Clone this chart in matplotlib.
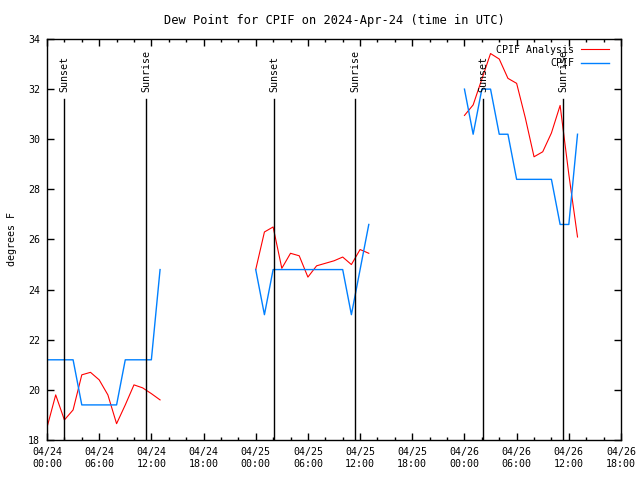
import numpy as np
import matplotlib
matplotlib.use('Agg')
import matplotlib.pyplot as plt
import matplotlib.dates as mdates

rc = plt.rcParams
rc['font.family'] = 'DejaVu Sans Mono'
rc['font.size'] = 7.2

base = np.datetime64('2024-04-24T00:00')

# hours since 04/24 00:00 UTC
hrs1 = np.arange(0, 14)
hrs2 = np.arange(24, 38)
hrs3 = np.arange(48, 62)

ana1 = [18.5, 19.8, 18.8, 19.2, 20.6, 20.7, 20.4, 19.8, 18.65, 19.4, 20.2, 20.08, 19.85, 19.6]
ana2 = [24.8, 26.3, 26.5, 24.85, 25.45, 25.35, 24.5, 24.95, 25.05, 25.15, 25.3, 25.0, 25.6, 25.45]
ana3 = [30.95, 31.37, 32.4, 33.42, 33.2, 32.43, 32.23, 30.85, 29.3, 29.5, 30.25, 31.35, 28.6, 26.1]

fc1 = [21.2, 21.2, 21.2, 21.2, 19.4, 19.4, 19.4, 19.4, 19.4, 21.2, 21.2, 21.2, 21.2, 24.8]
fc2 = [24.8, 23.0, 24.8, 24.8, 24.8, 24.8, 24.8, 24.8, 24.8, 24.8, 24.8, 23.0, 24.8, 26.6]
fc3 = [32.0, 30.2, 32.0, 32.0, 30.2, 30.2, 28.4, 28.4, 28.4, 28.4, 28.4, 26.6, 26.6, 30.2]

sun_times = ['2024-04-24T01:59', '2024-04-24T11:25', '2024-04-25T02:08',
             '2024-04-25T11:26', '2024-04-26T02:10', '2024-04-26T11:22']
sun_names = ['Sunset', 'Sunrise', 'Sunset', 'Sunrise', 'Sunset', 'Sunrise']


def to_time(h):
    return base + (np.asarray(h) * 60).astype('timedelta64[m]')


fig = plt.figure(figsize=(6.4, 4.8), dpi=100)
ax = fig.add_axes([47/640, 1-440/480, 574/640, 401/480])

for k, (h, a) in enumerate([(hrs1, ana1), (hrs2, ana2), (hrs3, ana3)]):
    ax.plot(to_time(h), a, color='#ff0000', lw=0.8,
            label='CPIF Analysis' if k == 0 else None)
for k, (h, f) in enumerate([(hrs1, fc1), (hrs2, fc2), (hrs3, fc3)]):
    ax.plot(to_time(h), f, color='#0080ff', lw=1.0,
            label='CPIF' if k == 0 else None)

for t, n in zip(sun_times, sun_names):
    tt = np.datetime64(t)
    ax.plot([tt, tt], [18, 31.6], color='black', lw=1.0)
    ax.text(tt, 31.9, n, rotation=90, ha='center', va='bottom')

ax.set_xlim(np.datetime64('2024-04-24T00:00'), np.datetime64('2024-04-26T18:00'))
ax.set_ylim(18, 34)
ax.set_yticks(np.arange(18, 35, 2))
ax.xaxis.set_major_locator(mdates.HourLocator(byhour=[0, 6, 12, 18]))
ax.xaxis.set_minor_locator(mdates.HourLocator(interval=2))
ax.xaxis.set_major_formatter(mdates.DateFormatter('%m/%d\n%H:%M'))
ax.tick_params(which='both', direction='in', top=True, right=True, width=1)
ax.tick_params(which='major', length=5, pad=5)
ax.tick_params(which='minor', length=2.5)
for s in ax.spines.values():
    s.set_linewidth(1)

ax.set_ylabel('degrees F', labelpad=8)
ax.set_title('Dew Point for CPIF on 2024-Apr-24 (time in UTC)', pad=11)
ax.legend(loc='upper right', bbox_to_anchor=(1, 1 + 6/401), frameon=False,
          markerfirst=False, handlelength=2.8, borderaxespad=1.1, borderpad=0.1,
          labelspacing=0.35, handletextpad=0.7)

fig.savefig('out.png', dpi=100)
